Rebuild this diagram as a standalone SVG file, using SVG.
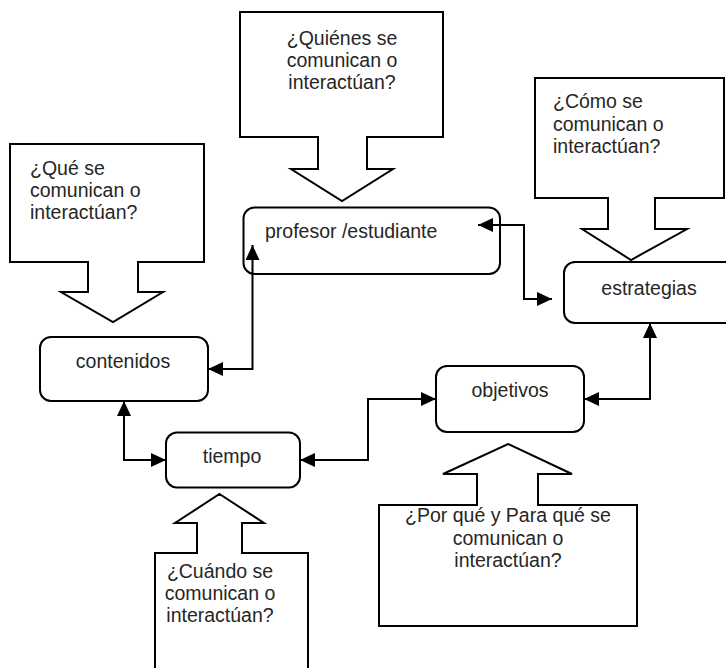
<svg xmlns="http://www.w3.org/2000/svg" width="726" height="668" viewBox="0 0 726 668">
  <style>
    .callout { fill: #ffffff; stroke: #000000; stroke-width: 2; stroke-linejoin: miter; }
    .node rect { fill: #ffffff; stroke: #000000; stroke-width: 2; }
    text { font-family: "Liberation Sans", Arial, sans-serif; font-size: 19.5px; fill: #262626; }
    .mid { text-anchor: middle; }
    .link { fill: none; stroke: #000000; stroke-width: 2; marker-start: url(#head); marker-end: url(#head); }
  </style>
  <defs>
    <marker id="head" markerUnits="userSpaceOnUse" markerWidth="15" markerHeight="14" refX="15" refY="7" orient="auto-start-reverse">
      <path d="M0,0 L15,7 L0,14 z" fill="#000000"/>
    </marker>
  </defs>
  <rect width="726" height="668" fill="#ffffff"/>

  <!-- question callouts -->
  <g id="q-quienes">
    <polygon class="callout" points="240,12 443,12 443,137 367,137 367,169 393,169 342,201 291,169 318,169 318,137 240,137"/>
    <text class="mid" x="342" y="45">¿Quiénes se</text>
    <text class="mid" x="342" y="67">comunican o</text>
    <text class="mid" x="342" y="89">interactúan?</text>
  </g>
  <g id="q-como">
    <polygon class="callout" points="535,78 724,78 724,198 655,198 655,229 687,229 631,260 582,229 608,229 608,198 535,198"/>
    <text x="553" y="108">¿Cómo se</text>
    <text x="553" y="131">comunican o</text>
    <text x="553" y="153">interactúan?</text>
  </g>
  <g id="q-que">
    <polygon class="callout" points="10,144 204,144 204,262 138,262 138,292 163,292 113,322 61,292 88,292 88,262 10,262"/>
    <text x="30" y="175">¿Qué se</text>
    <text x="30" y="197">comunican o</text>
    <text x="30" y="219">interactúan?</text>
  </g>
  <g id="q-cuando">
    <polygon class="callout" points="219.5,494 264,523 242,523 242,553 308,553 308,670 155,670 155,553 197,553 197,523 175,523"/>
    <text class="mid" x="220" y="578">¿Cuándo se</text>
    <text class="mid" x="220" y="600">comunican o</text>
    <text class="mid" x="220" y="622">interactúan?</text>
  </g>
  <g id="q-porque">
    <polygon class="callout" points="508,444 572,474 538,474 538,505 637,505 637,626 379,626 379,505 477,505 477,474 443,474"/>
    <text class="mid" x="508" y="522">¿Por qué y Para qué se</text>
    <text class="mid" x="508" y="545">comunican o</text>
    <text class="mid" x="508" y="567">interactúan?</text>
  </g>

  <!-- concept nodes -->
  <g id="profesor" class="node">
    <rect x="243.5" y="207.5" width="256.5" height="66.5" rx="11"/>
    <text x="265" y="238">profesor /estudiante</text>
  </g>
  <g id="contenidos" class="node">
    <rect x="40" y="337" width="168" height="64" rx="11"/>
    <text class="mid" x="123" y="368">contenidos</text>
  </g>
  <g id="tiempo" class="node">
    <rect x="166" y="432.5" width="134" height="55" rx="11"/>
    <text class="mid" x="232" y="463">tiempo</text>
  </g>
  <g id="objetivos" class="node">
    <rect x="436" y="366" width="148" height="66" rx="11"/>
    <text class="mid" x="510" y="397">objetivos</text>
  </g>
  <g id="estrategias" class="node">
    <rect x="564" y="262" width="175" height="61" rx="11"/>
    <text class="mid" x="649" y="295">estrategias</text>
  </g>

  <!-- two-way connectors -->
  <g id="connectors">
    <path class="link" d="M208,369 H252.5 V245"/>
    <path class="link" d="M478,225 H524 V299 H552"/>
    <path class="link" d="M124,401 V460 H166"/>
    <path class="link" d="M300,460 H368 V399 H436"/>
    <path class="link" d="M584,399 H650 V323"/>
  </g>
</svg>
